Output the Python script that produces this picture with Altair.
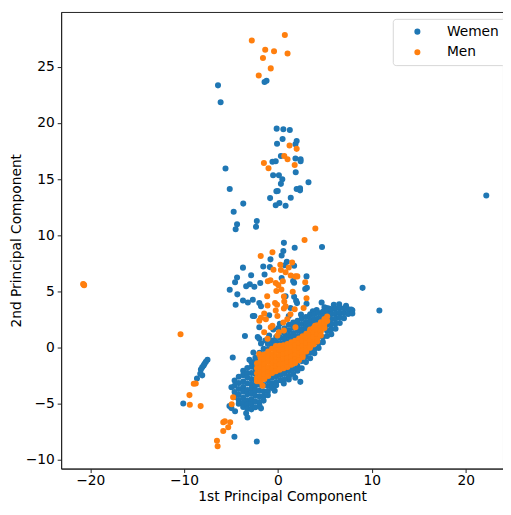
import altair as alt
import pandas as pd

# ---- values (1st PC, 2nd PC) ----
women_sparse = [
    (-6.39, 23.36), (-1.43, 23.66), (-1.22, 23.77), (-6.11, 21.86), (-5.59, 15.94), (-5.14, 14.12),
    (-3.70, 12.82), (-4.72, 12.10), (-4.36, 10.97), (-4.51, 10.54), (-2.26, 11.27), (-2.34, 10.75),
    (-0.14, 19.50), (0.57, 19.44), (1.26, 19.38), (0.49, 18.57), (1.99, 18.40), (1.86, 18.11),
    (-0.10, 18.16), (0.31, 17.07), (1.86, 16.84), (2.41, 16.78), (2.41, 16.60), (-0.59, 16.55),
    (-0.24, 16.60), (1.89, 15.62), (-0.52, 15.34), (0.10, 15.34), (0.46, 14.99), (0.31, 14.58),
    (3.25, 14.73), (-0.03, 13.95), (-0.17, 13.92), (1.99, 14.12), (2.35, 14.18), (2.35, 14.00),
    (-0.84, 13.31), (1.36, 13.34), (0.15, 12.88), (-0.24, 12.68), (0.81, 12.62),
    (22.19, 13.54),
    (4.69, 8.95), (0.63, 9.32), (1.78, 8.89), (0.57, 8.60), (0.39, 8.20), (-0.80, 7.85), (0.94, 7.63),
    (0.73, 7.33), (1.72, 7.28), (-1.57, 7.22), (-3.73, 7.11), (-0.87, 7.16), (-2.86, 6.44), (-4.36, 6.24),
    (-4.57, 5.81), (-1.43, 6.50), (3.04, 6.33), (0.39, 6.18), (1.72, 5.77), (-1.89, 5.75), (-3.00, 5.63),
    (-3.39, 5.46), (-5.14, 5.14), (-4.33, 4.73), (3.08, 5.31), (0.81, 4.56), (1.72, 4.51), (1.93, 4.16),
    (-3.73, 4.19), (-3.21, 4.01), (-2.68, 4.25), (-1.99, 3.95), (-4.51, 3.81), (4.65, 4.01), (3.04, 3.90),
    (5.42, 3.47), (-2.52, 5.40), (1.61, 5.92), (-1.81, 3.67), (-2.52, 2.80), (-0.94, 2.86), (1.33, 3.52),
    (2.03, 3.95), (3.43, 2.95), (1.15, 2.80), (-2.68, 2.80), (2.90, 5.20), (5.18, 3.52),
    (-1.99, 1.79), (-2.16, 0.92), (-0.94, 1.07), (-1.81, 0.35), (-1.99, 0.78), (-3.04, -1.10),
    (0.20, 2.10), (-0.50, 1.60), (-2.62, -0.45), (-1.35, 0.62), (0.05, 1.72), (4.12, 3.33),
    (6.52, 3.85), (7.25, 3.71), (-0.35, -3.86), (0.62, -3.21), (1.84, -2.71), (3.71, 3.22),
    (4.95, 3.58), (2.45, 2.93), (5.95, 3.79),
    (9.01, 5.31), (10.80, 3.29), (2.38, -3.07), (1.15, -2.85), (7.80, 3.38),
    (-4.82, -0.90), (-3.52, 1.01),
    (-7.51, -1.10), (-7.68, -1.27), (-7.82, -1.45), (-7.92, -1.62), (-8.07, -1.77), (-8.21, -1.97),
    (-8.28, -2.34), (-8.07, -2.49), (-8.63, -2.77),
    (-10.09, -5.00), (-4.64, -7.97), (-2.26, -8.38), (-3.25, -6.24), (-3.39, -5.87), (-1.81, -5.43),
    (-5.17, -5.23), (-4.96, -5.41), (-4.57, -5.69), (-4.96, -3.55),
]

# dense band of women: (1st PC, [2nd PC values])
women_core = [
    (-4.62, [-2.95, -3.42, -3.97, -4.41]),
    (-4.18, [-2.62, -3.18, -3.71, -4.22, -4.68, -5.02]),
    (-3.71, [-2.08, -2.47, -3.05, -3.52, -3.94, -4.49, -4.93, -5.31]),
    (-3.27, [-1.83, -2.31, -2.69, -3.21, -3.80, -4.18, -4.71, -5.12, -5.46]),
    (-2.83, [-1.31, -1.72, -2.28, -2.81, -3.27, -3.66, -4.13, -4.62, -5.07, -5.52]),
    (-2.41, [-0.92, -1.38, -1.90, -2.36, -2.88, -3.40, -3.83, -4.30, -4.82, -5.33]),
    (-1.97, [-0.48, -0.97, -1.44, -3.32, -3.86, -4.38, -4.86, -5.21]),
    (-1.53, [-0.12, -0.61, -3.36, -3.90, -4.33, -4.74]),
    (-1.08, [0.31, -0.18, -2.58, -2.98, -3.44, -3.93, -4.27]),
    (-0.64, [0.62, 0.14, -2.41, -2.71, -3.19, -3.62]),
    (-0.19, [0.93, 0.47, -2.28, -2.58, -3.08, -3.37]),
    (0.26, [1.38, 0.86, 0.40, -2.16, -2.46, -2.93]),
    (0.71, [1.71, 1.23, 0.78, 0.40, -2.05, -2.31, -2.82]),
    (1.17, [2.02, 1.53, 1.04, 0.60, -1.90, -2.11, -2.58]),
    (1.62, [2.21, 1.76, 1.27, 0.85, -1.93, -2.37]),
    (2.08, [2.38, 1.92, 1.46, 1.00, -1.64, -2.08]),
    (2.53, [2.57, 2.09, 1.62, 1.20, -1.22, -1.86]),
    (2.98, [2.71, 2.24, 1.81, 1.40, -0.82, -1.31]),
    (3.43, [2.86, 2.41, 1.98, 1.55, -0.47, -0.96]),
    (3.88, [2.97, 2.52, 2.16, 1.75, -0.14, -0.52]),
    (4.33, [3.06, 2.63, 2.20, 0.38, -0.05]),
    (4.78, [3.18, 2.79, 2.35, 0.91, 0.47]),
    (5.23, [3.29, 2.92, 2.50, 2.00, 1.48, 1.02]),
    (5.68, [3.38, 2.97, 2.52, 2.06, 1.61, 1.18]),
    (6.13, [3.47, 3.03, 2.58, 2.14, 1.66]),
    (6.58, [3.52, 3.09, 2.66, 2.17]),
    (7.03, [3.49, 3.06, 2.61]),
    (7.48, [3.41, 2.98]),
    (7.92, [3.31, 3.02]),
]

men_sparse = [
    (-2.79, 27.35), (0.73, 27.84), (-1.36, 26.54), (-0.42, 26.40), (1.02, 26.20), (-1.60, 25.79),
    (-0.77, 24.87), (-2.05, 24.23),
    (1.23, 17.99), (1.99, 17.70), (0.67, 17.07), (1.02, 16.78), (-1.50, 16.43), (-1.01, 15.97), (1.78, 16.26),
    (3.98, 10.60), (2.83, 9.58), (-0.59, 8.49), (-1.84, 8.15), (0.25, 7.37), (1.51, 7.57), (1.15, 7.13),
    (-0.48, 6.93), (0.31, 6.90), (0.81, 6.70), (1.36, 6.41), (1.86, 6.33), (2.06, 6.33), (-0.80, 5.98),
    (-1.08, 5.89), (-0.24, 5.75), (0.52, 5.89), (2.90, 5.81), (0.04, 5.55), (0.36, 5.16), (-0.17, 5.03),
    (1.57, 4.97), (-1.15, 4.56), (3.04, 4.38), (0.67, 4.10), (-0.31, 3.95), (-0.10, 3.81), (-0.24, 3.29),
    (0.63, 3.47), (1.78, 3.41),
    (0.63, 4.53), (0.81, 3.67), (-1.11, 3.73), (-1.47, 3.03), (-1.81, 2.65), (-0.06, 2.80), (1.33, 2.95),
    (0.99, 2.51), (-1.29, 2.51), (-0.59, 1.93), (0.57, 2.22), (0.10, 1.35), (0.63, 1.50), (2.73, 3.52),
    (-1.99, 2.37), (-1.47, 1.35), (-0.77, 1.79), (-0.06, 1.07), (1.86, 1.79), (-1.11, 0.78),
    (-1.81, -1.10), (-2.00, -0.60), (-1.64, -3.41), (3.95, 1.93), (3.43, 1.60),
    (-20.71, 5.60), (-20.65, 5.55), (-20.75, 5.65),
    (-10.38, 1.18), (-8.97, -3.24), (-8.76, -3.21), (-9.43, -4.25), (-9.39, -5.11), (-8.24, -5.23),
    (-5.83, -6.67), (-5.66, -6.59), (-5.09, -6.67), (-5.30, -7.11), (-5.83, -7.45), (-6.50, -8.32),
    (-6.43, -8.81), (-4.78, -4.45), (-4.93, -5.06),
]

men_core = [
    (-2.24, [-1.42, -1.86, -2.31, -2.74, -3.02]),
    (-1.86, [-0.91, -1.33, -1.79, -2.24, -2.68, -3.05]),
    (-1.45, [-0.63, -1.08, -1.55, -1.98, -2.43, -2.82]),
    (-1.04, [-0.37, -0.84, -1.29, -1.77, -2.21, -2.55]),
    (-0.63, [-0.12, -0.58, -1.03, -1.47, -1.93, -2.28]),
    (-0.22, [0.12, -0.31, -0.77, -1.22, -1.68, -2.12]),
    (0.18, [0.14, -0.28, -0.70, -1.12, -1.55, -1.98]),
    (0.59, [0.20, -0.22, -0.64, -1.06, -1.48, -1.86]),
    (1.01, [0.30, -0.12, -0.54, -0.96, -1.38, -1.74]),
    (1.42, [0.45, 0.02, -0.41, -0.84, -1.27, -1.55]),
    (1.83, [0.60, 0.17, -0.26, -0.69, -1.08, -1.38]),
    (2.24, [0.80, 0.36, -0.08, -0.52, -0.92, -1.14]),
    (2.63, [1.00, 0.56, 0.12, -0.31, -0.62, -0.86]),
    (3.02, [1.22, 0.79, 0.36, -0.05, -0.36]),
    (3.41, [1.47, 1.04, 0.62, 0.22, -0.04]),
    (3.79, [1.72, 1.30, 0.88, 0.48, 0.27]),
    (4.18, [1.98, 1.56, 1.15, 0.75, 0.52]),
    (4.57, [2.25, 1.83, 1.42, 1.06]),
    (4.95, [2.52, 2.10, 1.72]),
    (5.24, [2.76, 2.35]),
]

groups = ["Wemen", "Men"]
colors = ["#1f77b4", "#ff7f0e"]
x_ticks = [-20, -10, 0, 10, 20]
y_ticks = [-10, -5, 0, 5, 10, 15, 20, 25]

rows = []
def add(group, pts):
    for x, y in pts:
        rows.append({"pc1": x, "pc2": y, "group": group, "idx": len(rows)})

add("Wemen", women_sparse)
add("Wemen", [(x, y) for x, ys in women_core for y in ys])
add("Men", men_sparse)
add("Men", [(x, y) for x, ys in men_core for y in ys])
df = pd.DataFrame(rows)

FONT = "DejaVu Sans"
axis_common = dict(
    grid=False, domainColor="#222222", tickColor="#222222", tickSize=4, tickWidth=1,
    labelFontSize=14, labelFont=FONT, labelColor="black",
    titleFontSize=14, titleFont=FONT, titleFontWeight="normal", titleColor="black",
    format="d",
)

chart = alt.Chart(df).mark_circle(size=38, opacity=1).encode(
    x=alt.X("pc1:Q",
            scale=alt.Scale(domain=[-23.1, 23.97], nice=False, zero=False),
            axis=alt.Axis(values=x_ticks, title="1st Principal Component",
                          labelPadding=1, titlePadding=2, **axis_common)),
    y=alt.Y("pc2:Q",
            scale=alt.Scale(domain=[-10.8, 29.9], nice=False, zero=False),
            axis=alt.Axis(values=y_ticks, title="2nd Principal Component",
                          labelPadding=3, titlePadding=2, **axis_common)),
    color=alt.Color("group:N",
                    scale=alt.Scale(domain=groups, range=colors),
                    legend=alt.Legend(title=None, orient="none", legendX=337, legendY=7,
                                      padding=6, symbolOffset=12, labelOffset=23, rowPadding=7,
                                      strokeColor="#d6d6d6", fillColor="rgba(255,255,255,0.8)",
                                      cornerRadius=3, labelFontSize=14, labelFont=FONT,
                                      labelColor="black", symbolSize=38, symbolType="circle",
                                      symbolStrokeWidth=0, symbolOpacity=1)),
    order=alt.Order("idx:Q"),
).properties(
    width=449, height=464,
    autosize=alt.AutoSizeParams(type="none"),
    padding={"left": 54, "top": 0, "right": 0, "bottom": 35},
).configure_view(stroke="#222222", strokeWidth=1)

chart.save("out.html", embed_options={"renderer": "svg", "actions": False})
